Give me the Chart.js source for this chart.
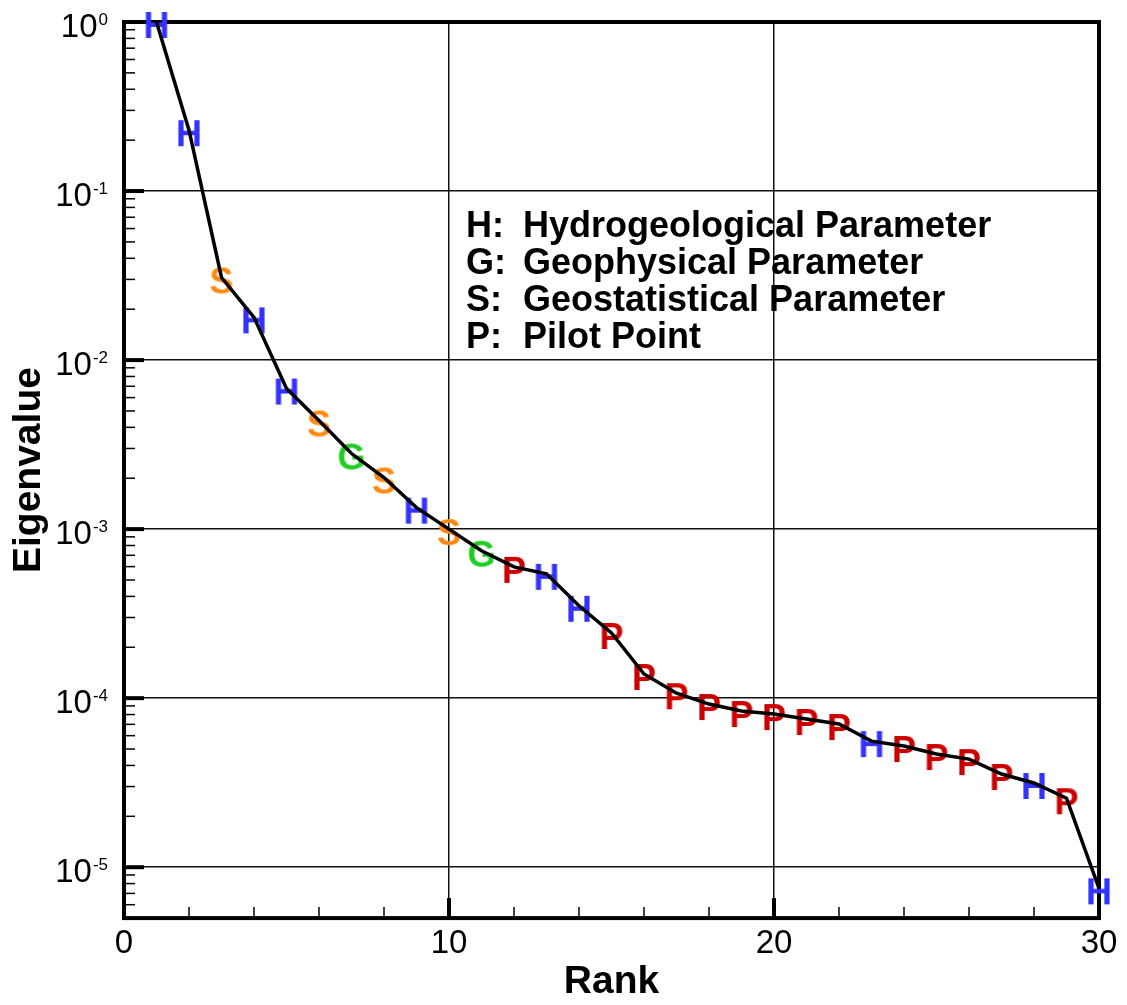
<!DOCTYPE html>
<html>
<head>
<meta charset="utf-8">
<script src="https://cdn.jsdelivr.net/npm/chart.js@4.4.0/dist/chart.umd.min.js"></script>
<style>
  html, body { margin: 0; padding: 0; background: #fff; }
</style>
</head>
<body>
<canvas id="myChart" width="1127" height="1005"></canvas>
<script>
// data
const ranks = [1, 2, 3, 4, 5, 6, 7, 8, 9, 10, 11, 12, 13, 14, 15,
               16, 17, 18, 19, 20, 21, 22, 23, 24, 25, 26, 27, 28, 29, 30];
const eigenvalues = [1.0, 0.229, 0.0308, 0.0179, 0.00679, 0.00439, 0.00280, 0.00202, 0.00134, 0.00100,
                     0.000745, 0.000598, 0.000544, 0.000352, 0.000243, 0.000139, 0.000107, 9.23e-5, 8.39e-5, 8.05e-5,
                     7.53e-5, 7.03e-5, 5.57e-5, 5.21e-5, 4.67e-5, 4.36e-5, 3.56e-5, 3.15e-5, 2.56e-5, 7.5e-6];
const paramTypes = ['H', 'H', 'S', 'H', 'H', 'S', 'G', 'S', 'H', 'S',
                    'G', 'P', 'H', 'H', 'P', 'P', 'P', 'P', 'P', 'P',
                    'P', 'P', 'H', 'P', 'P', 'P', 'P', 'H', 'P', 'H'];
const legendKeys = ['H:', 'G:', 'S:', 'P:'];
const legendLabels = ['Hydrogeological Parameter', 'Geophysical Parameter', 'Geostatistical Parameter', 'Pilot Point'];
const yDecades = [-5, -4, -3, -2, -1, 0];
const xMajorTicks = [0, 10, 20, 30];

const typeColors = { H: '#3333ff', G: '#1fcc1f', S: '#ff8811', P: '#cc0000' };
const FONT = '"Liberation Sans", Arial, Helvetica, sans-serif';

// letter glyphs used as point styles
function makeGlyph(letter, color) {
    const c = document.createElement('canvas');
    c.width = 44; c.height = 44;
    const g = c.getContext('2d');
    g.font = 'bold 36px ' + FONT;
    g.fillStyle = color;
    g.textAlign = 'center';
    g.textBaseline = 'alphabetic';
    g.fillText(letter, 22, 38);
    return c;
}
const glyphs = {};
for (const k in typeColors) glyphs[k] = makeGlyph(k, typeColors[k]);

const points = ranks.map((r, i) => ({ x: r, y: eigenvalues[i] }));

const framePlugin = {
    id: 'frame',
    beforeDatasetsDraw(chart) {
        const { ctx, chartArea: a, scales: { x, y } } = chart;
        ctx.save();
        ctx.strokeStyle = '#000';
        ctx.fillStyle = '#000';
        const seg = (x1, y1, x2, y2) => { ctx.beginPath(); ctx.moveTo(x1, y1); ctx.lineTo(x2, y2); ctx.stroke(); };

        // minor ticks, inside
        ctx.lineWidth = 1.5;
        for (let e = -6; e <= 0; e++) {
            for (let m = 2; m <= 9; m++) {
                const v = m * Math.pow(10, e);
                if (v < y.min || v > y.max) continue;
                const py = y.getPixelForValue(v);
                seg(a.left, py, a.left + 11, py);
            }
        }
        for (let v = 2; v < 30; v += 2) {
            if (v % 10 === 0) continue;
            const px = x.getPixelForValue(v);
            seg(px, a.bottom, px, a.bottom - 11);
        }
        // major ticks
        ctx.lineWidth = 4;
        yDecades.forEach(e => {
            const py = y.getPixelForValue(Math.pow(10, e));
            seg(a.left, py, a.left + 20, py);
        });
        xMajorTicks.forEach(v => {
            const px = x.getPixelForValue(v);
            seg(px, a.bottom, px, a.bottom - 20);
        });
        // frame
        ctx.lineWidth = 4;
        ctx.strokeRect(a.left, a.top, a.right - a.left, a.bottom - a.top);

        // y tick labels 10^e
        ctx.textAlign = 'right';
        ctx.textBaseline = 'alphabetic';
        yDecades.forEach(e => {
            const py = y.getPixelForValue(Math.pow(10, e));
            const exp = String(e);
            ctx.font = '17px ' + FONT;
            const w = ctx.measureText(exp).width;
            ctx.fillText(exp, 108, py + 3);
            ctx.font = '33px ' + FONT;
            ctx.fillText('10', 108 - w - 1, py + 15);
        });
        ctx.restore();
    },
    afterDatasetsDraw(chart) {
        const { ctx } = chart;
        ctx.save();
        ctx.fillStyle = '#000';
        ctx.font = 'bold 36px ' + FONT;
        ctx.textAlign = 'left';
        ctx.textBaseline = 'alphabetic';
        legendKeys.forEach((k, i) => {
            const by = 236.5 + i * 37.3;
            ctx.fillText(k, 466, by);
            ctx.fillText(legendLabels[i], 523, by);
        });
        ctx.restore();
    }
};

const ctx = document.getElementById('myChart').getContext('2d');
const chart = new Chart(ctx, {
    type: 'scatter',
    data: {
        datasets: [{
            // the curve, drawn over the letters
            data: points,
            showLine: true,
            borderColor: '#000',
            borderWidth: 3.5,
            pointRadius: 0,
            pointHoverRadius: 0,
            order: 0
        }, {
            // letters marking each parameter type
            data: points,
            showLine: false,
            pointStyle: c => glyphs[paramTypes[c.dataIndex]],
            pointRadius: 10,
            clip: false,
            order: 1
        }]
    },
    options: {
        responsive: false,
        animation: false,
        devicePixelRatio: 1,
        layout: { padding: { top: 22, right: 28, left: 0, bottom: 0 } },
        plugins: { legend: { display: false }, tooltip: { enabled: false } },
        scales: {
            x: {
                type: 'linear',
                min: 0,
                max: 30,
                ticks: {
                    stepSize: 10,
                    padding: 9,
                    color: '#000',
                    font: { family: FONT, size: 33, lineHeight: 1 }
                },
                grid: { color: '#111', lineWidth: 1.5, drawTicks: false, tickLength: 0 },
                border: { display: false },
                title: {
                    display: true,
                    text: 'Rank',
                    color: '#000',
                    font: { family: FONT, size: 39, weight: 'bold', lineHeight: 0.69 },
                    padding: { top: 0, bottom: 9 }
                }
            },
            y: {
                type: 'logarithmic',
                min: 5e-6,
                max: 1,
                afterBuildTicks: s => { s.ticks = yDecades.map(e => ({ value: Math.pow(10, e) })); },
                ticks: { display: false },
                grid: { color: '#111', lineWidth: 1.5, drawTicks: false, tickLength: 0 },
                border: { display: false },
                title: {
                    display: true,
                    text: 'Eigenvalue',
                    color: '#000',
                    font: { family: FONT, size: 39, weight: 'bold', lineHeight: 1 },
                    padding: { top: 10, bottom: 75 }
                }
            }
        }
    },
    plugins: [framePlugin]
});
</script>
</body>
</html>
